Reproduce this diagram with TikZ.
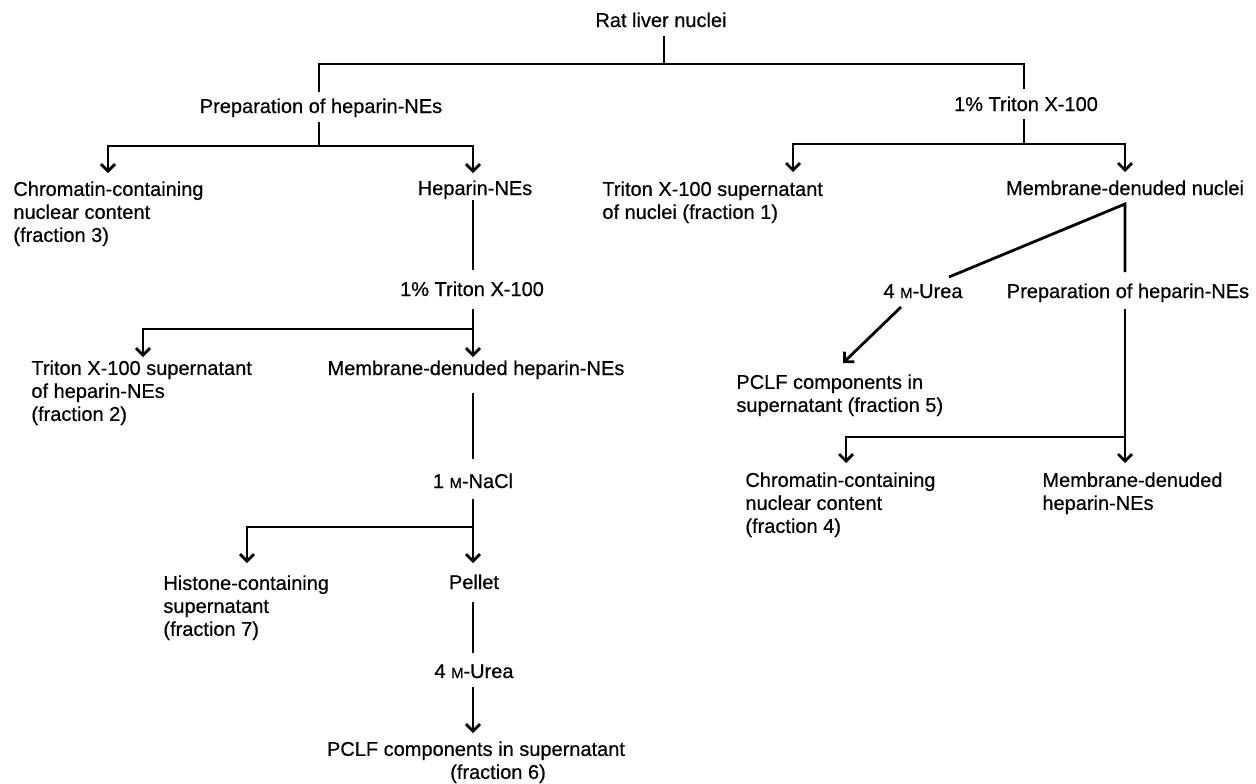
\documentclass[tikz,border=0pt]{standalone}
\usepackage{fontspec}
\setmainfont{Liberation Sans}[RawFeature={embolden=0.5}]
\usetikzlibrary{arrows.meta}
\newcommand{\molarM}{{\fontsize{7.4}{9}\selectfont M}}
\begin{document}
\begin{tikzpicture}[x=0.5pt,y=-0.5pt,
  lbl/.style={inner sep=0pt, font=\fontsize{10}{11.5}\selectfont},
  one/.style={lbl, anchor=base},
  multi/.style={lbl, align=left, anchor=north west},
  conn/.style={line width=1.4pt, line join=miter},
  arr/.style={conn, -{Straight Barb[length=3.5pt,width=7pt]}}]
\useasboundingbox (0,0) rectangle (1256,783);

% ---- single-line labels
\node[one] (rat)     at (661,27)  {Rat liver nuclei};
\node[one] (prepL)   at (321,113) {Preparation of heparin-NEs};
\node[one] (tritonR) at (1026,111) {1\% Triton X-100};
\node[one] (hepNE)   at (475,195) {Heparin-NEs};
\node[one] (memNuc)  at (1125,195) {Membrane-denuded nuclei};
\node[one] (tritonL) at (472,296) {1\% Triton X-100};
\node[one] (memHep)  at (476,375) {Membrane-denuded heparin-NEs};
\node[one] (nacl)    at (473,488) {1 \molarM-NaCl};
\node[one] (pellet)  at (474,589) {Pellet};
\node[one] (ureaL)   at (474,678) {4 \molarM-Urea};
\node[one] (ureaR)   at (923,298) {4 \molarM-Urea};
\node[one] (prepR)   at (1128,298) {Preparation of heparin-NEs};

% ---- multi-line labels
\node[multi] (chrom3) at (13,181)   {Chromatin-containing\\nuclear content\\(fraction 3)};
\node[multi] (trit1)  at (602,181)  {Triton X-100 supernatant\\of nuclei (fraction 1)};
\node[multi] (trit2)  at (31,360)   {Triton X-100 supernatant\\of heparin-NEs\\(fraction 2)};
\node[multi] (pclf5)  at (736,374)  {PCLF components in\\supernatant (fraction 5)};
\node[multi] (chrom4) at (745,472)  {Chromatin-containing\\nuclear content\\(fraction 4)};
\node[multi] (memhep2) at (1042,472) {Membrane-denuded\\heparin-NEs};
\node[multi] (hist7)  at (163,575)  {Histone-containing\\supernatant\\(fraction 7)};
\node[lbl, align=center, anchor=north] (pclf6) at (476,741) {PCLF components in supernatant\\\hspace*{22pt}(fraction 6)};

% ---- connector points
\coordinate (ratS) at (664,36);
\coordinate (j0) at (664,64);
\coordinate (prepLN) at (319,92);
\coordinate (tritRN) at (1024,89);
\coordinate (prepLS) at (319,122);
\coordinate (j1) at (319,146);
\coordinate (a3) at (108,173);
\coordinate (aH) at (473,173);
\coordinate (hepS) at (473,200);
\coordinate (tritLN) at (473,270);
\coordinate (tritLS) at (473,309);
\coordinate (j2) at (473,329);
\coordinate (a2) at (143,357);
\coordinate (aMH) at (473,357);
\coordinate (memHS) at (473,393);
\coordinate (naclN) at (473,459);
\coordinate (naclS) at (473,499);
\coordinate (j3) at (473,527);
\coordinate (a7) at (247,563);
\coordinate (aP) at (473,563);
\coordinate (pelS) at (473,602);
\coordinate (ureaLN) at (473,653);
\coordinate (ureaLS) at (473,687);
\coordinate (a6) at (473,733);
\coordinate (tritRS) at (1024,119);
\coordinate (j4) at (1024,144);
\coordinate (a1) at (793,172);
\coordinate (aMN) at (1125,172);
\coordinate (apex) at (1125,204);
\coordinate (ureaRN) at (949,277);
\coordinate (prepRN) at (1125,272);
\coordinate (ureaRS) at (901,307);
\coordinate (a5) at (843,363);
\coordinate (prepRS) at (1125,309);
\coordinate (j5) at (1125,437);
\coordinate (a4) at (846,463);
\coordinate (aMH2) at (1125,463);

% ---- connectors
\draw[conn] (ratS) -- (j0);
\draw[conn] (prepLN) -- (prepLN |- j0) -- (tritRN |- j0) -- (tritRN);
\draw[conn] (prepLS) -- (j1);
\draw[arr] (j1) -| (a3);
\draw[arr] (j1) -| (aH);
\draw[conn] (hepS) -- (tritLN);
\draw[arr] (tritLS) -- (aMH);
\draw[arr] (j2) -| (a2);
\draw[conn] (memHS) -- (naclN);
\draw[arr] (naclS) -- (aP);
\draw[arr] (j3) -| (a7);
\draw[conn] (pelS) -- (ureaLN);
\draw[arr] (ureaLS) -- (a6);
\draw[conn] (tritRS) -- (j4);
\draw[arr] (j4) -| (a1);
\draw[arr] (j4) -| (aMN);
\draw[conn] (ureaRN) -- (apex) -- (prepRN);
\draw[arr] (ureaRS) -- (a5);
\draw[arr] (prepRS) -- (aMH2);
\draw[arr] (j5) -| (a4);
\end{tikzpicture}
\end{document}
